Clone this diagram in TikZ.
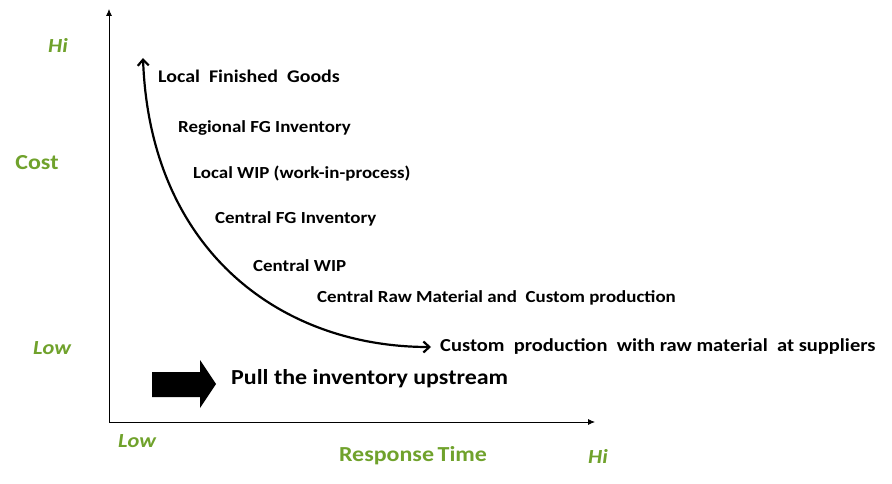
\documentclass[tikz,border=0pt]{standalone}
\usepackage{fontspec}
\setmainfont{Carlito}[FakeStretch=1.12]
\usetikzlibrary{arrows.meta}
\definecolor{axisgreen}{RGB}{112,162,44}

\tikzset{
    item/.style={anchor=west, inner sep=0pt, font=\bfseries\fontsize{16.9}{19}\selectfont},
    axislabel/.style={inner sep=0pt, text=axisgreen, font=\bfseries\fontsize{21.4}{23}\selectfont},
    axisend/.style={inner sep=0pt, text=axisgreen, font=\bfseries\itshape\fontsize{20}{22}\selectfont}
}

\begin{document}
\begin{tikzpicture}[x=1pt, y=-1pt]
    \useasboundingbox (0,0) rectangle (892,484);

    % Axes
    \coordinate (origin) at (109,422);
    \coordinate (ytop) at (109,9);
    \coordinate (xend) at (595,422);
    \draw[thick, -{Latex[length=7pt,width=6pt]}] (origin) -- (ytop);
    \draw[thick, -{Latex[length=7pt,width=6pt]}] (origin) -- (xend);

    % Axis labels
    \node[axisend] (yhi) at (58,45) {Hi};
    \node[axislabel] (cost) at (37,163) {Cost};
    \node[axisend] (ylow) at (52,348) {Low};
    \node[axisend] (xlow) at (137,441) {Low};
    \node[axislabel] (resp) at (413,456) {Response\,Time};
    \node[axisend] (xhi) at (598,456) {Hi};

    % Inventory positions
    \node[item, font=\bfseries\fontsize{17.8}{19}\selectfont] (lfg) at (158,76) {Local~ Finished~ Goods};
    \node[item] (rfg) at (178,128) {Regional FG Inventory};
    \node[item] (lwip) at (193,174) {Local WIP (work-in-process)};
    \node[item] (cfg) at (215,219) {Central FG Inventory};
    \node[item] (cwip) at (253,266) {Central WIP};
    \node[item] (craw) at (317,298) {Central Raw Material and~ Custom production};
    \node[item, font=\bfseries\fontsize{18.3}{20}\selectfont] (cust) at (440,347) {Custom~ production~ with raw material~ at suppliers};

    % Trade-off curve
    \coordinate (ctop) at (143,58);
    \coordinate (cend) at (431,347);
    \draw[line width=2.2pt, {Straight Barb[length=6pt,width=11pt]}-{Straight Barb[length=6pt,width=11pt]}]
        (ctop) .. controls (150,250) and (280,347) .. (cend);

    % Pull arrow
    \fill (152,372) -- (200,372) -- (200,360) -- (216,384) -- (200,408) -- (200,397) -- (152,397) -- cycle;
    \node[item, font=\bfseries\fontsize{21.4}{23}\selectfont] (pull) at (231,379) {Pull the inventory upstream};
\end{tikzpicture}
\end{document}
